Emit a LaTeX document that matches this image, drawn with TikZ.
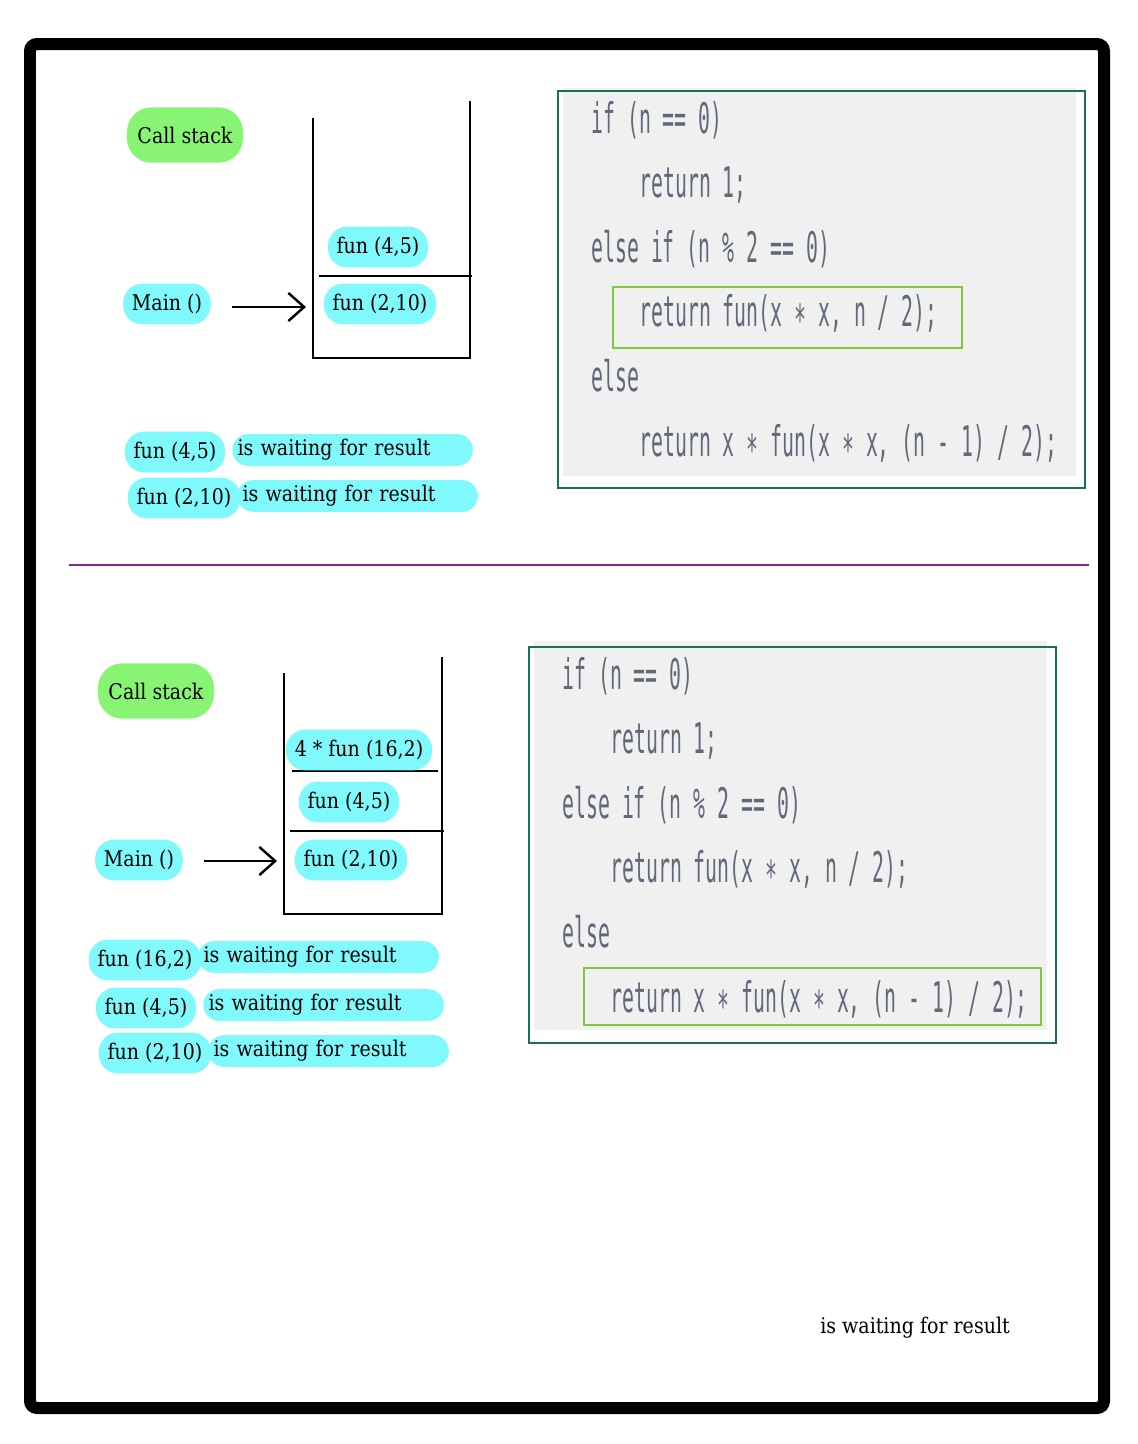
\documentclass[tikz,border=0pt]{standalone}
\usepackage{fontspec}
\usetikzlibrary{arrows.meta}

\newfontfamily\handfont[FakeStretch=0.88]{DejaVu Serif}
\newfontfamily\codefont[FakeStretch=0.47]{DejaVu Sans Mono}

\definecolor{hlcyan}{RGB}{128,249,252}
\definecolor{hlgreen}{RGB}{135,245,115}
\definecolor{codegray}{RGB}{95,105,120}
\definecolor{codebg}{RGB}{240,240,240}
\definecolor{boxgreen}{RGB}{20,115,85}
\definecolor{linegreen}{RGB}{130,200,60}
\definecolor{splitpurple}{RGB}{130,40,140}

\begin{document}
\begin{tikzpicture}[
  x=0.02cm, y=-0.02cm,
  hand/.style={font=\handfont\fontsize{12.3}{14}\selectfont, inner sep=0pt},
  hl/.style={hand, fill=hlcyan, rounded corners=11pt, inner xsep=5pt, inner ysep=6pt},
  callblob/.style={hand, fill=hlgreen, rounded corners=14pt, inner xsep=6pt, inner ysep=11pt},
  waitbar/.style={hand, fill=hlcyan, rounded corners=9pt, anchor=west,
    inner xsep=3pt, inner ysep=3pt, text width=4.6cm, align=left},
  code/.style={font=\codefont\fontsize{24}{28}\selectfont, text=codegray,
    inner sep=0pt, anchor=base west},
  stackline/.style={line width=1.4pt},
  callarrow/.style={line width=1.4pt, -{Straight Barb[length=9pt,width=16pt]}},
  codebox/.style={draw=boxgreen, line width=1.4pt},
  hotline/.style={draw=linegreen, line width=1.4pt}
]
  \useasboundingbox (0,0) rectangle (1138,1444);

  % frame and split
  \draw[line width=0.24cm, rounded corners=4pt] (30,44) rectangle (1104,1408);
  \draw[splitpurple, line width=1.2pt] (69,565) -- (1089,565);

  % ---- upper step ----
  \node[callblob] (cs1) at (185,135) {Call stack};

  \draw[stackline] (313,118) -- (313,358) -- (470,358) -- (470,101);
  \draw[stackline] (319,276) -- (472,276);
  \node[hl] (s1a) at (378,247) {fun (4,5)};
  \node[hl] (s1b) at (380,304) {fun (2,10)};

  \node[hl] (main1) at (167,304) {Main ()};
  \coordinate (in1) at (306,307);
  \draw[callarrow] (main1.east |- in1) ++(21,0) -- (in1);

  \node[hl] (w1a) at (175,452) {fun (4,5)};
  \node[waitbar] (w1at) at (232,450) {is waiting for result};
  \node[hl] (w1b) at (184,498) {fun (2,10)};
  \node[waitbar] (w1bt) at (237,496) {is waiting for result};

  \fill[codebg] (563,88) rectangle (1076,476);
  \draw[codebox] (558,91) rectangle (1085,488);
  \draw[hotline] (613,287) rectangle (962,348);
  \node[code] (p1) at (591,133) {if (n == 0)};
  \node[code] (p2) at (639,197) {return 1;};
  \node[code] (p3) at (591,262) {else if (n \% 2 == 0)};
  \node[code] (p4) at (639,326) {return fun(x ∗ x, n / 2);};
  \node[code] (p5) at (591,391) {else};
  \node[code] (p6) at (639,456) {return x ∗ fun(x ∗ x, (n - 1) / 2);};

  % ---- lower step ----
  \node[callblob] (cs2) at (156,691) {Call stack};

  \draw[stackline] (284,673) -- (284,914) -- (442,914) -- (442,657);
  \draw[stackline] (292,771) -- (438,771);
  \draw[stackline] (290,831) -- (444,831);
  \node[hl] (s2a) at (359,750) {4 * fun (16,2)};
  \node[hl] (s2b) at (349,802) {fun (4,5)};
  \node[hl] (s2c) at (351,860) {fun (2,10)};

  \node[hl] (main2) at (139,860) {Main ()};
  \coordinate (in2) at (277,861);
  \draw[callarrow] (main2.east |- in2) ++(21,0) -- (in2);

  \node[hl] (w2a) at (145,960) {fun (16,2)};
  \node[waitbar] (w2at) at (198,957) {is waiting for result};
  \node[hl] (w2b) at (146,1008) {fun (4,5)};
  \node[waitbar] (w2bt) at (203,1005) {is waiting for result};
  \node[hl] (w2c) at (155,1053) {fun (2,10)};
  \node[waitbar] (w2ct) at (208,1051) {is waiting for result};

  \fill[codebg] (534,641) rectangle (1047,1030);
  \draw[codebox] (529,647) rectangle (1056,1043);
  \draw[hotline] (584,968) rectangle (1041,1025);
  \node[code] (q1) at (562,689) {if (n == 0)};
  \node[code] (q2) at (610,753) {return 1;};
  \node[code] (q3) at (562,818) {else if (n \% 2 == 0)};
  \node[code] (q4) at (610,882) {return fun(x ∗ x, n / 2);};
  \node[code] (q5) at (562,947) {else};
  \node[code] (q6) at (610,1012) {return x ∗ fun(x ∗ x, (n - 1) / 2);};

  \node[hand] (lone) at (915,1328) {is waiting for result};
\end{tikzpicture}
\end{document}
